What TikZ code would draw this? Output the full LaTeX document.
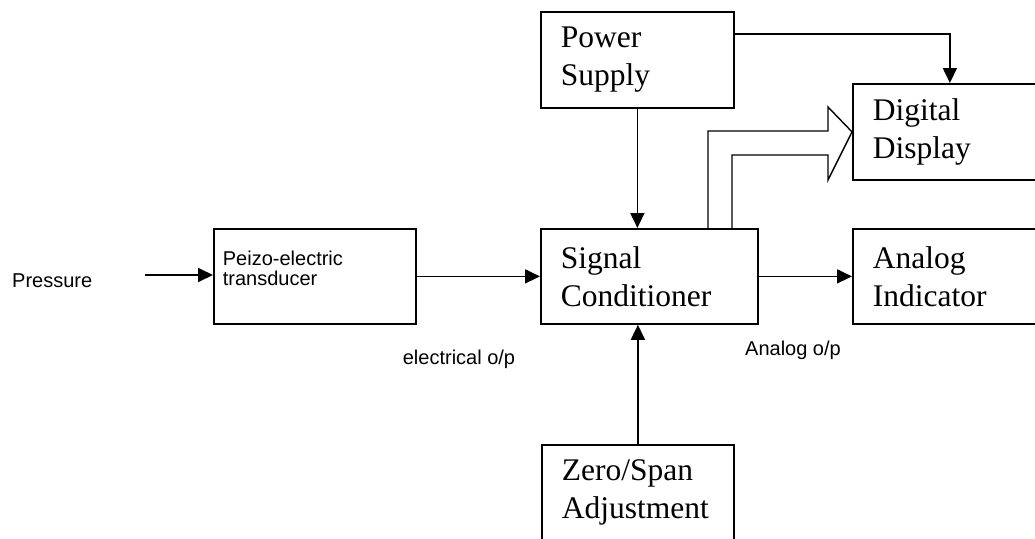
\documentclass[tikz,border=0pt]{standalone}
\usepackage{fontspec}
\setmainfont{Liberation Serif}
\newfontfamily\labelfont{Liberation Sans}
\usetikzlibrary{arrows.meta,calc}
\begin{document}
\begin{tikzpicture}[x=1pt,y=-1pt,
  blk/.style={draw, line width=1.8pt, rectangle, anchor=north west, align=left,
    inner ysep=0pt, font=\fontsize{31.5}{38}\selectfont},
  sblk/.style={draw, line width=1.8pt, rectangle, anchor=north west, align=left,
    inner ysep=0pt, font=\labelfont\fontsize{20}{20}\selectfont},
  lbl/.style={font=\labelfont\fontsize{20}{22}\selectfont, inner sep=0pt},
  arr/.style={line width=1.8pt, -{Triangle[length=15pt,width=14pt]}},
  hollow/.style={line width=1.4pt, line join=miter}]
\useasboundingbox (0,0) rectangle (1035,538);
\fill[white] (0,0) rectangle (1035,538);
% boxes
\node[blk, inner xsep=20pt, text width=153pt, minimum height=96pt] (ps) at (540,11) {Power\\Supply};
\node[blk, inner xsep=20pt, text width=154pt, minimum height=96pt] (dd) at (852,83) {Digital\\Display};
\node[blk, inner xsep=20pt, text width=177pt, minimum height=95pt] (sc) at (540,228) {Signal\\Conditioner};
\node[blk, inner xsep=20pt, text width=160pt, minimum height=95pt] (ai) at (852,228) {Analog\\Indicator};
\node[sblk, inner xsep=9pt, text width=184pt, minimum height=95pt] (pz) at (213,228) {Peizo-electric\\transducer\\[-4pt]\mbox{}};
\node[blk, inner xsep=20pt, text width=152pt, minimum height=96pt] (zs) at (541,444) {Zero/Span\\Adjustment};
% texts
\node[lbl, anchor=west] (pr) at (12,281) {Pressure};
\node[lbl] (eo) at (459,359) {electrical o/p};
\node[lbl] (ao) at (793,350) {Analog o/p};
\coordinate (pin) at (145,275);
% connectors
\draw[arr] (pin) -- (pz.west |- pin);
\draw[arr] (pz.east) -- (sc.west);
\draw[arr] (sc.east) -- (ai.west);
\draw[arr] (ps.south) -- (ps.south |- sc.north);
\draw[arr] (zs.north) -- (zs.north |- sc.south);
\draw[arr] ($(ps.north east)+(0,23)$) -| (dd.north);
% hollow arrow to digital display
\draw[hollow] (sc.north -| 708,0) -- (708,131) -- (828,131) -- (828,107) -- (dd.west)
  -- (828,180) -- (828,155) -- (732,155) -- (sc.north -| 732,0);
\end{tikzpicture}
\end{document}
